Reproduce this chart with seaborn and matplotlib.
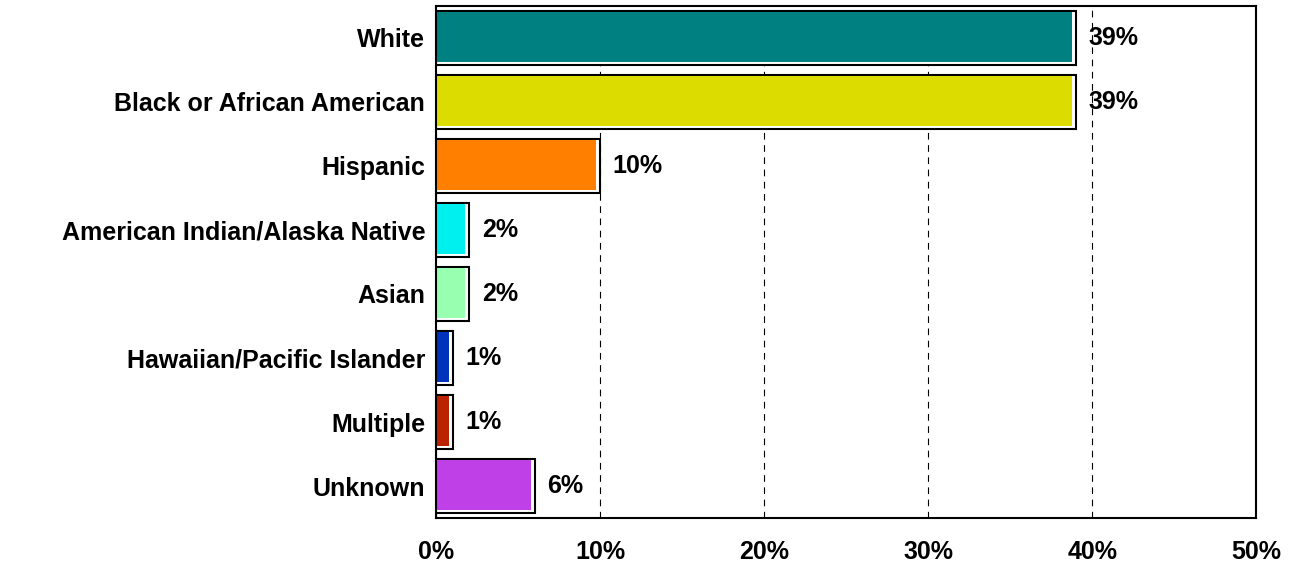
import matplotlib
matplotlib.use('Agg')
import matplotlib.pyplot as plt
import seaborn as sns
import pandas as pd

# data
groups = ['White', 'Black or African American', 'Hispanic',
          'American Indian/Alaska Native', 'Asian',
          'Hawaiian/Pacific Islander', 'Multiple', 'Unknown']
pct = [39, 39, 10, 2, 2, 1, 1, 6]
bar_colors = ['#008080', '#DCDC00', '#FF8000', '#00F0F0', '#99FFB0',
              '#0033BB', '#BB2200', '#BF40E6']
xticks = [0, 10, 20, 30, 40, 50]

df = pd.DataFrame({'group': groups, 'pct': pct})

sns.set_style('white')
plt.rcParams['font.family'] = ['Liberation Sans', 'DejaVu Sans']
plt.rcParams['text.color'] = 'black'
plt.rcParams['xtick.color'] = 'black'
plt.rcParams['ytick.color'] = 'black'

fig, ax = plt.subplots(figsize=(12.91, 5.62), dpi=100)
fig.subplots_adjust(left=0.338, right=0.973, top=0.99, bottom=0.078)

# white box with black edge behind each bar (the "shadow" frame)
sns.barplot(data=df, x='pct', y='group', color='white', orient='h',
            width=0.845, ax=ax, zorder=3, edgecolor='black',
            linewidth=1.5, saturation=1)
n_frame = len(ax.patches)

# coloured fill, a bit smaller than the frame
sns.barplot(data=df, x='pct', y='group', hue='group', palette=bar_colors,
            orient='h', width=0.78, legend=False, ax=ax, zorder=4,
            edgecolor='none', saturation=1)

ax.set_xlim(0, 50)
ax.set_ylim(len(groups) - 0.5, -0.5)
px = (ax.get_xlim()[1] - ax.get_xlim()[0]) / (ax.get_position().width * fig.bbox.width)
py = 1.0 / (ax.get_position().height * fig.bbox.height / len(groups))
for p in ax.patches[n_frame:]:
    p.set_width(max(p.get_width() - 4 * px, 0))
    p.set_y(p.get_y() - 1 * py)

ax.bar_label(ax.containers[0], labels=[f'{v}%' for v in pct],
             padding=9, fontsize=18, fontweight='bold')

ax.set_xticks(xticks)
ax.set_xticklabels([f'{t}%' for t in xticks], fontsize=18, fontweight='bold')
ax.set_yticks(range(len(groups)))
ax.set_yticklabels(groups, fontsize=18, fontweight='bold')
ax.tick_params(axis='both', length=0)
ax.tick_params(axis='x', pad=16)
ax.tick_params(axis='y', pad=8)
ax.set_xlabel('')
ax.set_ylabel('')

ax.xaxis.grid(True, linestyle=(0, (6, 5)), color='black', linewidth=0.8)
ax.set_axisbelow(True)
for s in ax.spines.values():
    s.set_color('black')
    s.set_linewidth(1.5)
    s.set_visible(True)
    s.set_zorder(5)

plt.savefig('out.png', dpi=100)
